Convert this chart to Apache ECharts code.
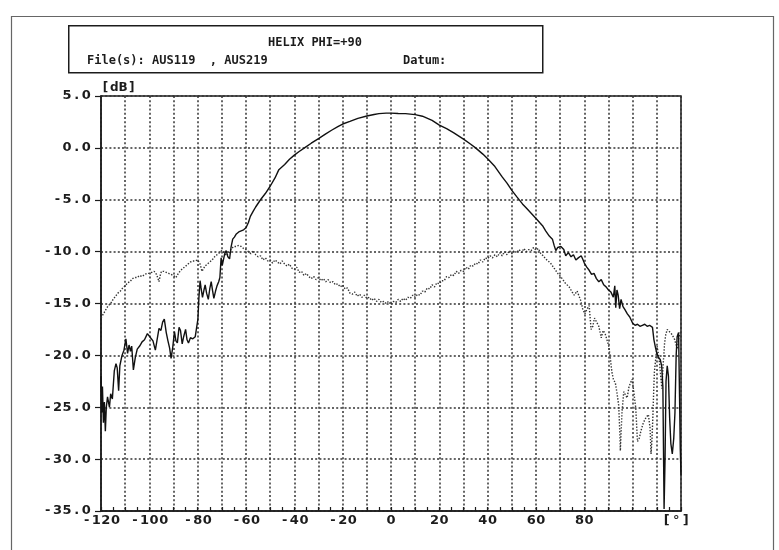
<!DOCTYPE html>
<html>
<head>
<meta charset="utf-8">
<script src="https://cdn.jsdelivr.net/npm/echarts@6/dist/echarts.min.js"></script>
<style>
html,body{margin:0;padding:0;background:#fff;}
#chart{width:779px;height:550px;}
</style>
</head>
<body>
<div id="chart"></div>
<script>
// ---------- data ----------
const titleText = 'HELIX PHI=+90';
const filesText = 'File(s): AUS119  , AUS219';
const datumText = 'Datum:';
const yUnit = '[dB]';
const xUnit = '[°]';
const xLabelValues = [-120, -100, -80, -60, -40, -20, 0, 20, 40, 60, 80];
const yLabelValues = [5, 0, -5, -10, -15, -20, -25, -30, -35];

// co-polar (solid) trace
const solidAngle = [
-120,-119.7,-119.4,-119,-118.6,-118.2,-117.8,-117.3,-116.5,-116,-115.3,-114.5,-113.8,-113.3,-112.7,-112.2,-111.3,-110.5,-109.7,-109,
-108.4,-107.8,-107.3,-106.6,-105.8,-105,-104,-103,-102,-100.8,-99.5,-98.5,-97.5,-96.8,-96,-95.2,-94.5,-93.8,-93,-92.3,
-91.6,-91,-90.3,-89.6,-89,-88.4,-87.7,-87.1,-86.4,-85.8,-85,-84.4,-83.8,-83,-82,-81,-80.3,-79.9,-79.5,-79,
-78.6,-78,-77.4,-76.9,-76.3,-75.6,-75,-74.4,-73.8,-73.3,-72.6,-72,-71.3,-70.8,-70.3,-69.8,-69.3,-68.8,-68.2,-67.5,
-66.8,-66.2,-65.5,-64.8,-64,-63,-62,-61,-60,-59,-58.2,-57,-56,-54,-52,-50,-48,-46.4,-44,-42,
-40,-38,-35.5,-33,-30,-27,-24.6,-22,-20,-17,-13.7,-10,-7,-5,-2,0,3,6,10,13,
17,20,23,26,30,33,35,38,40,43,46,48,50,52,54.4,56,58,60,61.5,62.7,
64,65.5,66.8,67.5,68.2,69,70.3,71.5,72.3,73.4,74.5,75.5,76.5,77.5,78.7,79.5,80,81,82,83,
84,85,86,87,88,89,90,91,92,92.6,93,93.5,94,94.6,95.2,96,96.8,97.8,98.8,100,
101,102,103,104,105,106,107,108.2,108.8,109.4,110,110.7,111.4,112,112.5,113,113.4,113.8,114.3,114.8,
115.3,115.8,116.4,117,117.5,118,118.4,119,119.4,119.7,120
];
const solidLevel = [
-22,-25.5,-23,-26.5,-24.5,-27.3,-25,-24,-25,-23.7,-24.2,-21.5,-20.8,-21.2,-23.4,-21,-20,-19.5,-18.4,-19.8,
-19,-19.6,-19.1,-21.4,-20.2,-19.4,-19.1,-18.7,-18.5,-17.9,-18.3,-18.6,-19.5,-18.5,-17.4,-17.6,-16.8,-16.5,-17.8,-18.6,
-19.3,-20.3,-19.2,-17.7,-18.6,-18.8,-17.3,-17.6,-18.9,-18.2,-17.5,-18.5,-18.8,-18.3,-18.4,-18.2,-18.2,-16.5,-14.5,-12.8,
-13.5,-14.4,-13.7,-13.2,-14,-14.6,-13.6,-12.9,-13.8,-14.5,-13.8,-13.3,-12.9,-12.5,-10.6,-11.3,-11.2,-10.2,-9.9,-10.5,
-10.7,-9.6,-8.8,-8.6,-8.3,-8.1,-8.0,-7.9,-7.7,-7.2,-6.6,-6.1,-5.7,-5.0,-4.4,-3.7,-2.9,-2.1,-1.6,-1.1,
-0.7,-0.35,0.05,0.45,0.9,1.35,1.7,2.05,2.3,2.55,2.85,3.07,3.22,3.3,3.35,3.35,3.32,3.3,3.2,3.05,
2.65,2.2,1.85,1.45,0.85,0.35,0,-0.6,-1.05,-1.8,-2.8,-3.4,-4.1,-4.7,-5.4,-5.8,-6.3,-6.8,-7.2,-7.5,
-8.0,-8.5,-8.8,-9.4,-9.9,-9.6,-9.5,-9.8,-10.4,-10.1,-10.5,-10.3,-10.8,-10.6,-10.4,-10.8,-11.1,-11.5,-11.8,-12.2,
-12.1,-12.6,-12.9,-12.7,-13.2,-13.4,-13.7,-13.9,-14.4,-13.3,-15.4,-13.7,-14.2,-15.5,-14.6,-15.3,-15.6,-16,-16.3,-16.9,
-17.1,-17.0,-17.2,-17.1,-17.0,-17.2,-17.1,-17.3,-18.5,-19.2,-19.8,-20.2,-20.4,-21,-23,-34.8,-30,-22.5,-21,-22,
-26,-28.5,-29.5,-28,-25.5,-20,-18.2,-17.8,-24,-29,-31.5
];

// cross-polar (dotted) trace
const crossAngle = [
-120,-119,-118,-117,-116,-115,-114,-113,-112,-111,-110,-109,-108,-107,-106,-105,-104,-103,-102,-101,
-100,-99,-98,-97,-96,-95.5,-95,-94,-93,-92,-91,-90,-89,-88,-87,-86,-85,-84,-83,-82,
-81,-80,-79,-78.2,-77.5,-77,-76,-75,-74,-73,-72,-71,-70,-69,-68,-67,-66,-65,-64,-63,
-62,-61,-60,-59,-58,-57,-56,-55,-54,-53,-52,-51,-50,-49,-48,-47,-46,-45,-44,-43,
-42,-41,-40,-39,-38,-37,-36,-35,-34,-33,-32,-31,-30,-29,-28,-27,-26,-25,-24,-23,
-22,-21,-20,-19,-18,-17,-16,-15,-14,-13,-12,-11,-10,-9,-8,-7,-6,-5,-4,-3,
-2,-1,0,1,2,3,4,5,6,7,8,9,10,11,12,13,14,15,16,17,
18,19,20,21,22,23,24,25,26,27,28,29,30,31,32,33,34,35,36,37,
38,39,40,41,42,43,44,45,46,47,48,49,50,51,52,53,54,55,56,57,
58,59,60,61,62,63,64,65,66,67.5,69,70.5,72,73.7,75,75.8,77,77.8,78.5,79.3,
80.2,81,82,82.8,83.5,84.2,85,86,87,87.8,88.6,89.3,90,90.7,91.4,92.1,92.8,93.5,94.2,94.6,
94.9,95.3,95.6,96.3,97,97.7,98.5,99.2,99.8,100.5,101.3,102,102.7,103.4,104.4,105.5,106.5,107.2,107.6,108,
108.3,108.7,109,109.6,110.1,110.6,111.1,111.6,112.1,112.6,113.2,113.7,114.3,115,116,117,117.4,118,118.5,119,
119.5,120
];
const crossLevel = [
-16.4,-16,-15.6,-15.2,-15,-14.6,-14.3,-14,-13.8,-13.5,-13.3,-13,-12.9,-12.6,-12.5,-12.5,-12.3,-12.4,-12.2,-12.1,
-12.1,-12,-11.9,-12.2,-12.9,-12.3,-11.9,-11.9,-12,-12.1,-12.2,-12.3,-12.5,-12.1,-11.8,-11.6,-11.4,-11.2,-11,-10.9,
-10.9,-10.8,-11.2,-11.9,-11.8,-11.4,-11.2,-11,-10.8,-10.5,-10.3,-10.1,-9.9,-10.1,-10.4,-10.1,-9.7,-9.5,-9.5,-9.4,
-9.5,-9.7,-9.8,-10,-10.2,-9.9,-10.3,-10.5,-10.4,-10.8,-10.6,-10.9,-10.8,-11.1,-10.8,-11,-11.2,-10.9,-11.2,-11.4,
-11.2,-11.6,-11.7,-11.5,-12,-11.9,-12.3,-12.1,-12.4,-12.6,-12.4,-12.7,-12.5,-12.8,-12.6,-12.9,-12.7,-13,-12.9,-13.2,
-13.1,-13.4,-13.2,-13.6,-13.5,-14,-14.1,-13.9,-14.3,-14.1,-14.4,-14.2,-14.5,-14.4,-14.7,-14.5,-14.8,-14.6,-14.9,-14.8,
-15,-14.8,-15.1,-14.8,-14.9,-14.6,-14.8,-14.5,-14.7,-14.4,-14.5,-14.2,-14.4,-14.1,-14.2,-13.8,-13.9,-13.5,-13.6,-13.2,
-13.4,-13,-13.1,-12.8,-12.8,-12.4,-12.5,-12.2,-12.3,-11.9,-12.1,-11.8,-11.9,-11.5,-11.7,-11.3,-11.4,-11.1,-11.2,-10.8,
-11,-10.6,-10.7,-10.4,-10.6,-10.3,-10.5,-10.1,-10.4,-10,-10.3,-9.9,-10.2,-9.9,-10.1,-9.8,-10.1,-9.7,-10,-9.8,
-9.9,-9.6,-9.85,-9.7,-10.2,-10.4,-10.7,-10.9,-11.1,-11.6,-12.1,-12.5,-13,-13.4,-13.9,-14.2,-13.8,-13.9,-14.7,-15.5,
-16,-15.6,-15.2,-17.5,-17.2,-16.4,-16.3,-17.2,-18.3,-17.6,-17.9,-18,-19,-20.1,-21.6,-22.4,-22.6,-23.6,-24.8,-27,
-29.2,-27,-25.4,-23.5,-23.8,-24.1,-23,-22.6,-22.3,-23.6,-25.1,-28.3,-28,-27.3,-26.5,-26,-25.7,-27,-29.5,-28,
-26.3,-23.5,-21.6,-20.2,-19.1,-19.8,-20.7,-22,-23.2,-21,-18.8,-18,-17.5,-17.6,-17.9,-18.3,-18.5,-19,-19.4,-18.4,
-17.9,-17.7
];

// ---------- chart ----------
const INK = '#1c1c1c';
const CELL = 9.6;
function spaced(str) {
  return String(str).split('').map(ch => '{c|' + (ch === ' ' ? '\u00a0' : ch) + '}').join('');
}
const cellRich = {
  c: { width: CELL, align: 'center', fontFamily: 'DejaVu Sans', fontWeight: 'bold', fontSize: 13, color: INK }
};
const nameRich = {
  c: { width: 8.8, align: 'center', fontFamily: 'DejaVu Sans', fontWeight: 'bold', fontSize: 12, color: INK }
};

const solidData = solidAngle.map((a, i) => [a, solidLevel[i]]);
const crossData = crossAngle.map((a, i) => [a, crossLevel[i]]);

const chart = echarts.init(document.getElementById('chart'), null, { renderer: 'canvas' });
const headFont = { fontFamily: 'DejaVu Sans Mono', fontWeight: 'bold', fontSize: 12, fill: INK };

chart.setOption({
  backgroundColor: '#fff',
  animation: false,
  grid: {
    left: 101, right: 98, top: 96, bottom: 39,
    show: true, borderColor: INK, borderWidth: 1.5, backgroundColor: 'transparent'
  },
  xAxis: {
    type: 'value', min: -120, max: 120, interval: 10,
    axisLine: { show: true, onZero: false, lineStyle: { color: INK, width: 1.5 } },
    axisTick: { show: true, inside: true, length: 4, lineStyle: { color: INK, width: 1.2 } },
    minorTick: { show: true, splitNumber: 2, length: 4, lineStyle: { color: INK, width: 1.2 } },
    splitLine: { show: true, lineStyle: { color: '#333', width: 1.5, type: [2, 2.2] } },
    axisLabel: {
      margin: 3,
      showMinLabel: true, showMaxLabel: true,
      formatter: function (v) {
        if (v === 120) return spaced(xUnit + ' ');
        if (xLabelValues.indexOf(v) >= 0) return spaced(String(v));
        return '';
      },
      rich: cellRich
    }
  },
  yAxis: {
    type: 'value', min: -35, max: 5, interval: 5,
    name: spaced(yUnit), nameLocation: 'end', nameGap: 2,
    nameTextStyle: { align: 'left', verticalAlign: 'bottom', rich: nameRich },
    axisLine: { show: true, onZero: false, lineStyle: { color: INK, width: 1.5 } },
    axisTick: { show: true, inside: false, length: 6, lineStyle: { color: INK, width: 1.2 } },
    splitLine: { show: true, lineStyle: { color: '#333', width: 1.5, type: [2, 2.2] } },
    axisLabel: {
      margin: 10,
      showMinLabel: true, showMaxLabel: true,
      formatter: function (v) {
        if (yLabelValues.indexOf(v) < 0) return '';
        return spaced(v.toFixed(1));
      },
      rich: cellRich
    }
  },
  series: [
    {
      name: 'AUS119', type: 'line', data: solidData, showSymbol: false, symbol: 'none',
      lineStyle: { color: '#111', width: 1.4 }, z: 3
    },
    {
      name: 'AUS219', type: 'line', data: crossData, showSymbol: false, symbol: 'none',
      lineStyle: { color: '#333', width: 1.4, type: [1.4, 1.6] }, z: 2
    }
  ],
  graphic: [
    { type: 'rect', left: 9, top: 14, shape: { width: 762, height: 560 },
      style: { fill: 'none', stroke: '#666', lineWidth: 1.2 }, silent: true },
    { type: 'rect', left: 68, top: 25, shape: { width: 474, height: 47 },
      style: { fill: '#fff', stroke: INK, lineWidth: 1.5 }, silent: true },
    { type: 'text', x: 315, y: 43, style: Object.assign({ text: titleText, align: 'center', verticalAlign: 'middle' }, headFont) },
    { type: 'text', x: 87, y: 61, style: Object.assign({ text: filesText, align: 'left', verticalAlign: 'middle' }, headFont) },
    { type: 'text', x: 403, y: 61, style: Object.assign({ text: datumText, align: 'left', verticalAlign: 'middle' }, headFont) }
  ]
});
</script>
</body>
</html>
